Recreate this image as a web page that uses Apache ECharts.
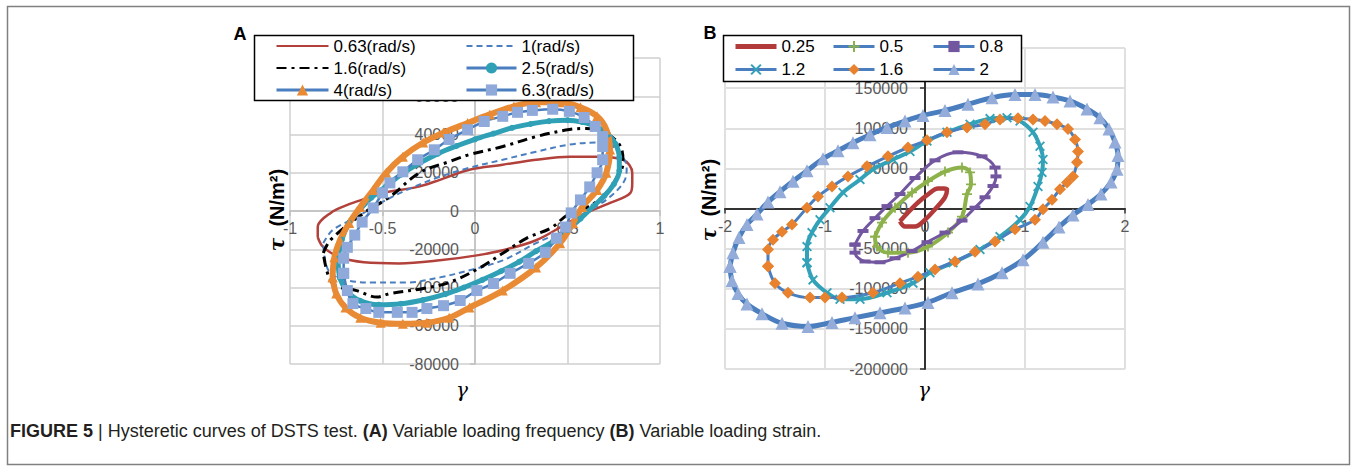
<!DOCTYPE html>
<html><head><meta charset="utf-8">
<script src="https://cdn.jsdelivr.net/npm/echarts@6/dist/echarts.min.js"></script>
<style>html,body{margin:0;padding:0;background:#fff}#c{width:1357px;height:472px}</style>
</head><body><div id="c"></div>
<script>
// ---------- tick labels ----------
const A_X_TICKS = [-1, -0.5, 0, 0.5, 1];
const A_Y_TICKS = [-80000, -60000, -40000, -20000, 0, 20000, 40000, 60000, 80000];
const B_X_TICKS = [-2, -1, 0, 1, 2];
const B_Y_TICKS = [-200000, -150000, -100000, -50000, 0, 50000, 100000, 150000, 200000];

// ---------- legend names ----------
const A_NAMES = ['0.63(rad/s)', '1(rad/s)', '1.6(rad/s)', '2.5(rad/s)', '4(rad/s)', '6.3(rad/s)'];
const B_NAMES = ['0.25', '0.5', '0.8', '1.2', '1.6', '2'];

// ---------- panel A data: [gamma, tau] ----------
const A_063 = [[-0.85,-13700],[-0.85,-8400],[-0.78,-1000],[-0.69,3200],[-0.58,6800],[-0.5,9500],[-0.31,12600],[-0.19,16300],[-0.03,21600],[0.15,24200],[0.33,26800],[0.51,28400],[0.66,28400],[0.8,26800],[0.85,20000],[0.85,14700],[0.84,9500],[0.73,4200],[0.6,-1000],[0.5,-6300],[0.33,-15300],[0.15,-20500],[0.01,-23200],[-0.19,-25800],[-0.41,-27400],[-0.6,-26800],[-0.73,-24200],[-0.82,-18900],[-0.85,-13700]];
const A_1 = [[-0.82,-16800],[-0.77,-10000],[-0.64,-3200],[-0.51,4200],[-0.37,11000],[-0.19,17900],[-0.03,22600],[0.15,26800],[0.33,31000],[0.51,34700],[0.66,35800],[0.73,34700],[0.78,30500],[0.82,23200],[0.81,16300],[0.73,7400],[0.6,-1000],[0.48,-10000],[0.33,-16800],[0.15,-25800],[-0.03,-31000],[-0.19,-34700],[-0.37,-37400],[-0.55,-37400],[-0.69,-36300],[-0.78,-32600],[-0.81,-25800],[-0.82,-16800]];
const A_16 = [[-0.82,-22000],[-0.78,-15000],[-0.6,-1000],[-0.46,7400],[-0.3,20000],[-0.14,25800],[-0.03,29500],[0.15,33700],[0.33,38900],[0.51,42600],[0.6,43200],[0.72,40000],[0.79,33000],[0.8,25000],[0.77,17900],[0.69,7400],[0.58,500],[0.5,-2100],[0.41,-8900],[0.28,-14200],[0.15,-22100],[0.03,-29500],[-0.14,-37400],[-0.28,-40500],[-0.46,-43200],[-0.53,-45000],[-0.64,-41600],[-0.77,-37900],[-0.82,-22000]];
const A_25 = [[-0.74,-25000],[-0.72,-15000],[-0.68,-6000],[-0.62,1000],[-0.56,7000],[-0.48,13000],[-0.4,19000],[-0.3,25000],[-0.2,30000],[-0.1,34000],[0.0,37500],[0.1,40500],[0.2,43500],[0.3,45500],[0.4,47000],[0.5,47500],[0.58,46500],[0.66,44000],[0.72,40000],[0.76,35000],[0.78,28000],[0.78,21000],[0.75,14000],[0.7,8000],[0.64,2500],[0.57,-4000],[0.5,-10000],[0.42,-16000],[0.33,-21000],[0.24,-26500],[0.14,-31500],[0.04,-36000],[-0.06,-40000],[-0.16,-43500],[-0.28,-46500],[-0.4,-48500],[-0.52,-49000],[-0.62,-47000],[-0.69,-42000],[-0.73,-35000],[-0.74,-25000]];
const A_4 = [[-0.77,-34700],[-0.76,-24200],[-0.73,-15300],[-0.68,-6300],[-0.62,2100],[-0.55,11000],[-0.48,20000],[-0.39,28400],[-0.28,35800],[-0.17,41000],[-0.04,46000],[0.08,50500],[0.21,54700],[0.33,56800],[0.46,56800],[0.57,54200],[0.66,49500],[0.71,42600],[0.73,32100],[0.71,20000],[0.66,11000],[0.58,2100],[0.53,-6300],[0.46,-16800],[0.33,-29500],[0.15,-41600],[-0.03,-50500],[-0.14,-55800],[-0.26,-58400],[-0.39,-59000],[-0.51,-58400],[-0.62,-55800],[-0.7,-50500],[-0.75,-43200],[-0.77,-34700]];
const A_63 = [[-0.71,-32600],[-0.71,-24700],[-0.69,-19000],[-0.65,-12600],[-0.61,-5800],[-0.55,1600],[-0.5,9500],[-0.46,14700],[-0.39,20500],[-0.31,26800],[-0.22,32000],[-0.14,37400],[-0.04,42500],[0.05,46800],[0.15,49500],[0.23,51600],[0.31,52600],[0.42,53200],[0.51,52100],[0.59,48900],[0.65,44200],[0.69,38900],[0.69,33700],[0.69,26800],[0.66,20000],[0.62,12600],[0.57,5800],[0.52,-1000],[0.49,-8400],[0.44,-14200],[0.38,-21600],[0.29,-27400],[0.19,-32600],[0.1,-37900],[0.01,-41600],[-0.08,-46800],[-0.17,-49500],[-0.26,-51000],[-0.34,-53000],[-0.42,-53000],[-0.52,-53000],[-0.59,-51000],[-0.66,-48400],[-0.69,-41600],[-0.71,-32600]];

// ---------- panel B data: [gamma, tau] ----------
const B_025 = [[-0.25,-16000],[-0.17,-5000],[-0.07,7500],[0.03,17500],[0.13,25000],[0.22,24000],[0.2,14000],[0.1,-1000],[0,-14000],[-0.1,-22500],[-0.2,-22500],[-0.25,-16000]];
const B_05 = [[-0.5,-35000],[-0.43,-17500],[-0.3,1000],[-0.13,20000],[0.03,34000],[0.2,46000],[0.37,51000],[0.45,45000],[0.46,30000],[0.42,18000],[0.37,-10000],[0.23,-30000],[0.03,-47500],[-0.17,-55000],[-0.37,-55000],[-0.48,-47500],[-0.5,-35000]];
const B_08 = [[-0.7,-45000],[-0.62,-28000],[-0.5,-12000],[-0.38,3000],[-0.25,18000],[-0.1,38000],[0.1,60000],[0.33,70000],[0.57,65000],[0.7,51000],[0.71,40000],[0.68,28000],[0.6,14000],[0.5,1000],[0.37,-15000],[0.2,-30000],[0.02,-42000],[-0.13,-53000],[-0.3,-62000],[-0.45,-67000],[-0.6,-66000],[-0.7,-55000],[-0.7,-45000]];
const B_12 = [[-1.18,-67500],[-1.18,-47500],[-1.13,-30000],[-1.05,-14000],[-0.95,1000],[-0.82,20000],[-0.65,36000],[-0.52,49000],[-0.32,61000],[-0.15,71000],[0.02,84000],[0.22,95000],[0.45,105000],[0.65,112000],[0.82,113000],[0.95,109000],[1.08,95000],[1.15,77500],[1.18,61000],[1.17,45000],[1.13,27500],[1.05,2500],[0.95,-14000],[0.75,-35000],[0.55,-51000],[0.28,-67500],[0.05,-80000],[-0.12,-93000],[-0.38,-105000],[-0.65,-113000],[-0.85,-113000],[-0.98,-105000],[-1.12,-89000],[-1.18,-67500]];
const B_16 = [[-1.57,-72000],[-1.57,-51000],[-1.52,-39000],[-1.43,-29000],[-1.33,-20000],[-1.18,1000],[-1.07,15000],[-0.93,27500],[-0.77,40000],[-0.58,52500],[-0.37,65000],[-0.17,76000],[0.02,85000],[0.22,95000],[0.42,101000],[0.6,105000],[0.75,111000],[0.93,112500],[1.08,111000],[1.2,109000],[1.32,105000],[1.43,99000],[1.5,86000],[1.53,71000],[1.52,57500],[1.48,40000],[1.42,32500],[1.35,24000],[1.27,11000],[1.18,-1000],[1.1,-14000],[0.9,-26000],[0.7,-41000],[0.5,-54000],[0.3,-66000],[0.1,-76000],[-0.07,-85000],[-0.25,-93000],[-0.52,-105000],[-0.83,-111000],[-1.0,-111000],[-1.15,-111000],[-1.37,-105000],[-1.5,-93000],[-1.57,-72000]];
const B_2 = [[-1.95,-72000],[-1.92,-55000],[-1.86,-36000],[-1.78,-20000],[-1.68,-7000],[-1.57,8000],[-1.45,21000],[-1.32,34000],[-1.18,47000],[-1.02,62000],[-0.87,72000],[-0.72,82000],[-0.55,92000],[-0.38,101000],[-0.2,109000],[-0.02,116000],[0.2,122000],[0.43,130000],[0.67,138000],[0.9,142000],[1.1,142000],[1.28,139000],[1.45,134000],[1.62,124000],[1.75,113000],[1.84,99000],[1.9,83000],[1.93,66000],[1.92,49000],[1.86,33000],[1.76,18000],[1.63,5000],[1.48,-8000],[1.34,-23000],[1.18,-42000],[0.98,-64000],[0.77,-80000],[0.53,-94000],[0.27,-105000],[0.03,-117000],[-0.2,-124000],[-0.45,-130000],[-0.7,-136000],[-0.93,-142000],[-1.17,-147000],[-1.43,-143000],[-1.63,-131000],[-1.78,-119000],[-1.87,-106000],[-1.93,-90000],[-1.95,-72000]];

// ---------- styles ----------
const LINE_BLUE = '#4A7EBF';
const PLUS = 'path://M4.1,0H5.9V4.1H10V5.9H5.9V10H4.1V5.9H0V4.1H4.1Z';
const CROSS = 'path://M1.3,0L5,3.7L8.7,0L10,1.3L6.3,5L10,8.7L8.7,10L5,6.3L1.3,10L0,8.7L3.7,5L0,1.3Z';
const FONT = 'Liberation Sans';

// grid boxes (pixels)
const GA = {left:290, top:58, width:370, height:306};
const GB = {left:725, top:48, width:400, height:321};

function rng(t){ return {min:t[0], max:t[t.length-1], interval:t[1]-t[0]}; }
function ln(name, data, gi, o){
  return Object.assign({
    type:'line', name:name, data:data, xAxisIndex:gi, yAxisIndex:gi,
    smooth:0.35, animation:false, silent:true, symbol:'none', clip:false
  }, o);
}

const series = [
  ln(A_NAMES[0], A_063, 0, {lineStyle:{color:'#B3413B', width:2.5}, itemStyle:{color:'#B3413B'}}),
  ln(A_NAMES[1], A_1, 0, {lineStyle:{color:LINE_BLUE, width:2, type:[6,4]}, itemStyle:{color:LINE_BLUE}}),
  ln(A_NAMES[2], A_16, 0, {lineStyle:{color:'#000', width:3, type:[10,5,3,5]}, itemStyle:{color:'#000'}}),
  ln(A_NAMES[3], A_25, 0, {lineStyle:{color:'#2FA0B6', width:5}, symbol:'circle', symbolSize:6, itemStyle:{color:'#2FA0B6'}}),
  ln(A_NAMES[4], A_4, 0, {lineStyle:{color:'#E98A34', width:6}, symbol:'triangle', symbolSize:10, itemStyle:{color:'#E98A34'}}),
  ln(A_NAMES[5], A_63, 0, {lineStyle:{color:LINE_BLUE, width:2.5}, symbol:'rect', symbolSize:11, itemStyle:{color:'#8FAADA'}}),
  ln(B_NAMES[0], B_025, 1, {lineStyle:{color:'#B23A3A', width:4.5}, itemStyle:{color:'#B23A3A'}}),
  ln(B_NAMES[1], B_05, 1, {lineStyle:{color:'#8DB24C', width:4}, symbol:PLUS, symbolSize:10, itemStyle:{color:'#8DB24C'}}),
  ln(B_NAMES[2], B_08, 1, {lineStyle:{color:'#7257A0', width:3}, symbol:'rect', symbolSize:[11,4], itemStyle:{color:'#7257A0'}}),
  ln(B_NAMES[3], B_12, 1, {lineStyle:{color:'#33A2B8', width:4}, symbol:CROSS, symbolSize:10, itemStyle:{color:'#33A2B8'}}),
  ln(B_NAMES[4], B_16, 1, {lineStyle:{color:LINE_BLUE, width:3}, symbol:'diamond', symbolSize:12, itemStyle:{color:'#E8822E'}}),
  ln(B_NAMES[5], B_2, 1, {lineStyle:{color:LINE_BLUE, width:5}, symbol:'triangle', symbolSize:13, itemStyle:{color:'#93ACD9'}})
];

function axisCommon(ticks, dark, margin, pos, offset, hideMax){
  const c = dark ? '#333333' : '#BFBFBF';
  return Object.assign({
    type:'value', position:pos, offset:offset,
    axisLine:{onZero:false, lineStyle:{color:c, width: dark ? 2 : 1.5}},
    axisTick:{show:true, length:5, lineStyle:{color:c, width:1.5}},
    axisLabel:{color:'#595959', fontSize:16, fontFamily:FONT, margin:margin, showMaxLabel: hideMax ? false : null, formatter:v => String(v)},
    splitLine:{show:true, lineStyle:{color: dark ? '#E0E0E0' : '#CFCFCF', width: dark ? 2 : 1.5}}
  }, rng(ticks));
}

// pixel offset that puts each axis on the other axis' zero
function zeroOffX(g, t){ const r = rng(t); return -(g.height * (0 - r.min) / (r.max - r.min)); }
function zeroOffY(g, t){ const r = rng(t); return -(g.width * (0 - r.min) / (r.max - r.min)); }

const legendBase = {orient:'vertical', selectedMode:false, padding:0, itemGap:0, z:20,
  textStyle:{fontSize:17, fontFamily:FONT, color:'#000'}};
const NOSYM = {itemStyle:{opacity:0}};
function legItem(name, extra){ return Object.assign({name:name}, extra || {}); }

const option = {
  backgroundColor:'#fff',
  animation:false,
  grid:[GA, GB],
  xAxis:[
    Object.assign(axisCommon(A_X_TICKS, false, 9, 'bottom', zeroOffX(GA, A_Y_TICKS)), {gridIndex:0}),
    Object.assign(axisCommon(B_X_TICKS, true, 10, 'bottom', zeroOffX(GB, B_Y_TICKS)), {gridIndex:1})
  ],
  yAxis:[
    Object.assign(axisCommon(A_Y_TICKS, false, 16, 'left', zeroOffY(GA, A_X_TICKS)), {gridIndex:0}),
    Object.assign(axisCommon(B_Y_TICKS, true, 17, 'left', zeroOffY(GB, B_X_TICKS), true), {gridIndex:1})
  ],
  legend:[
    Object.assign({}, legendBase, {left:275, top:35, itemWidth:52, itemHeight:14,
      textStyle:Object.assign({}, legendBase.textStyle, {lineHeight:22}),
      data:[legItem(A_NAMES[0], NOSYM), legItem(A_NAMES[2], NOSYM), legItem(A_NAMES[4], {lineStyle:{color:LINE_BLUE, width:3}})]}),
    Object.assign({}, legendBase, {left:465, top:35, itemWidth:50, itemHeight:14,
      textStyle:Object.assign({}, legendBase.textStyle, {lineHeight:22}),
      data:[legItem(A_NAMES[1], NOSYM), legItem(A_NAMES[3], {lineStyle:{color:LINE_BLUE, width:3}}), legItem(A_NAMES[5], {lineStyle:{color:LINE_BLUE, width:3}})]}),
    Object.assign({}, legendBase, {left:733, top:35, itemWidth:41, itemHeight:14,
      textStyle:Object.assign({}, legendBase.textStyle, {lineHeight:23}),
      data:[legItem(B_NAMES[0], {lineStyle:{width:5}, itemStyle:{opacity:0}}), legItem(B_NAMES[3], {lineStyle:{color:LINE_BLUE, width:3}})]}),
    Object.assign({}, legendBase, {left:832, top:35, itemWidth:41, itemHeight:14,
      textStyle:Object.assign({}, legendBase.textStyle, {lineHeight:23}),
      data:[legItem(B_NAMES[1], {lineStyle:{color:LINE_BLUE, width:3}}), legItem(B_NAMES[4], {lineStyle:{color:LINE_BLUE, width:3}})]}),
    Object.assign({}, legendBase, {left:932, top:35, itemWidth:41, itemHeight:14,
      textStyle:Object.assign({}, legendBase.textStyle, {lineHeight:23}),
      data:[legItem(B_NAMES[2], {lineStyle:{color:LINE_BLUE, width:3}}), legItem(B_NAMES[5], {lineStyle:{color:LINE_BLUE, width:3}})]})
  ],
  graphic:[
    {type:'rect', z:0, silent:true, shape:{x:7.5, y:6.5, width:1342, height:458}, style:{fill:'none', stroke:'#808080', lineWidth:1.5}},
    {type:'rect', z:10, silent:true, shape:{x:254.5, y:35.5, width:379, height:65}, style:{fill:'#fff', stroke:'#000', lineWidth:1.5}},
    {type:'rect', z:10, silent:true, shape:{x:723.5, y:35.5, width:298, height:46}, style:{fill:'#fff', stroke:'#000', lineWidth:1.5}},
    {type:'text', z:12, x:240, y:34, style:{text:'A', fontSize:18, fontWeight:'bold', fontFamily:FONT, fill:'#000', align:'center', verticalAlign:'middle'}},
    {type:'text', z:12, x:710, y:33, style:{text:'B', fontSize:18, fontWeight:'bold', fontFamily:FONT, fill:'#000', align:'center', verticalAlign:'middle'}},
    {type:'text', z:12, x:277, y:210, rotation:Math.PI/2, style:{text:'{t|τ}  (N/m²)', fontSize:20, fontWeight:'bold', fontFamily:FONT, fill:'#000', align:'center', verticalAlign:'middle',
      rich:{t:{fontFamily:'DejaVu Serif', fontStyle:'italic', fontWeight:'bold', fontSize:20, fill:'#000'}}}},
    {type:'text', z:12, x:709, y:200, rotation:Math.PI/2, style:{text:'{t|τ}  (N/m²)', fontSize:20, fontWeight:'bold', fontFamily:FONT, fill:'#000', align:'center', verticalAlign:'middle',
      rich:{t:{fontFamily:'DejaVu Serif', fontStyle:'italic', fontWeight:'bold', fontSize:20, fill:'#000'}}}},
    {type:'text', z:12, x:462, y:390, style:{text:'γ', fontSize:20, fontStyle:'italic', fontFamily:'DejaVu Serif', fill:'#000', align:'center', verticalAlign:'middle'}},
    {type:'text', z:12, x:924, y:390, style:{text:'γ', fontSize:20, fontStyle:'italic', fontFamily:'DejaVu Serif', fill:'#000', align:'center', verticalAlign:'middle'}},
    {type:'text', z:12, x:10, y:431, style:{
      text:'{b|FIGURE 5} | Hysteretic curves of DSTS test. {b|(A)} Variable loading frequency {b|(B)} Variable loading strain.',
      fontSize:18, fontFamily:FONT, fill:'#231F20', align:'left', verticalAlign:'middle',
      rich:{b:{fontWeight:'bold', fontSize:18, fontFamily:FONT, fill:'#231F20'}}}}
  ],
  series:series
};

const chart = echarts.init(document.getElementById('c'), null, {renderer:'svg'});
chart.setOption(option);
</script>
</body></html>
